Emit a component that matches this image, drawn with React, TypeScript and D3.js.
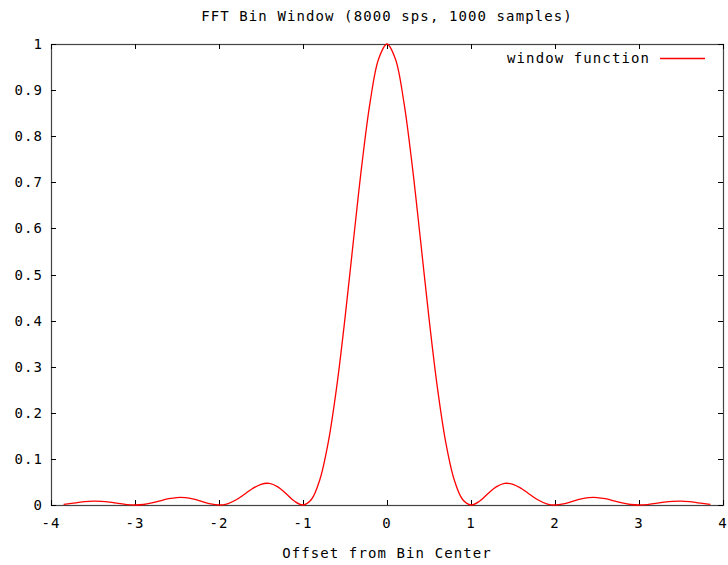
import React, { useEffect, useRef } from 'react';
import * as d3 from 'd3';

// offsets from bin center
const offsets: number[] = [
  -3.85, -3.8, -3.7, -3.6, -3.5, -3.4, -3.3, -3.2, -3.1, -3.0,
  -2.9, -2.8, -2.7, -2.6, -2.5, -2.4, -2.3, -2.2, -2.1, -2.0,
  -1.9, -1.8, -1.7, -1.6, -1.5, -1.4, -1.3, -1.2, -1.1, -1.0,
  -0.9, -0.8, -0.7, -0.6, -0.5, -0.4, -0.3, -0.2, -0.1, 0,
  0.1, 0.2, 0.3, 0.4, 0.5, 0.6, 0.7, 0.8, 0.9, 1.0,
  1.1, 1.2, 1.3, 1.4, 1.5, 1.6, 1.7, 1.8, 1.9, 2.0,
  2.1, 2.2, 2.3, 2.4, 2.5, 2.6, 2.7, 2.8, 2.9, 3.0,
  3.1, 3.2, 3.3, 3.4, 3.5, 3.6, 3.7, 3.8, 3.85,
];

// window function response at each offset
const windowValues: number[] = [
  0.0014, 0.0024, 0.0048, 0.0071, 0.0083, 0.0079, 0.0061, 0.0034, 0.0010, 0,
  0.0011, 0.0045, 0.0091, 0.0136, 0.0162, 0.0159, 0.0125, 0.0072, 0.0022, 0,
  0.0027, 0.0108, 0.0229, 0.0358, 0.0450, 0.0468, 0.0392, 0.0243, 0.0080, 0,
  0.0119, 0.0547, 0.1353, 0.2546, 0.4053, 0.5728, 0.7368, 0.8751, 0.9675, 1.0,
  0.9675, 0.8751, 0.7368, 0.5728, 0.4053, 0.2546, 0.1353, 0.0547, 0.0119, 0,
  0.0080, 0.0243, 0.0392, 0.0468, 0.0450, 0.0358, 0.0229, 0.0108, 0.0027, 0,
  0.0022, 0.0072, 0.0125, 0.0159, 0.0162, 0.0136, 0.0091, 0.0045, 0.0011, 0,
  0.0010, 0.0034, 0.0061, 0.0079, 0.0083, 0.0071, 0.0048, 0.0024, 0.0014,
];

const xTicks: number[] = [-4, -3, -2, -1, 0, 1, 2, 3, 4];
const yTicks: number[] = [0, 0.1, 0.2, 0.3, 0.4, 0.5, 0.6, 0.7, 0.8, 0.9, 1];

const title = 'FFT Bin Window (8000 sps, 1000 samples)';
const xLabel = 'Offset from Bin Center';
const seriesName = 'window function';

export default function App() {
  const svgRef = useRef<SVGSVGElement | null>(null);

  const W = 728;
  const H = 565;
  const margin = { top: 44, right: 5, bottom: 60, left: 51 };
  const width = W - margin.left - margin.right;
  const height = H - margin.top - margin.bottom;

  useEffect(() => {
    const svg = d3.select(svgRef.current);
    svg.selectAll('*').remove();

    const font = '"DejaVu Sans Mono", monospace';

    const x = d3.scaleLinear().domain([-4, 4]).range([0, width]);
    const y = d3.scaleLinear().domain([0, 1]).range([height, 0]);

    const g = svg.append('g').attr('transform', `translate(${margin.left},${margin.top})`);

    // frame
    g.append('rect')
      .attr('x', 0.5).attr('y', 0.5)
      .attr('width', width).attr('height', height)
      .attr('fill', 'none').attr('stroke', '#444').attr('stroke-width', 1.2);

    // inward ticks, mirrored on opposite side
    const tl = 5;
    g.selectAll('.xt').data(xTicks).join('path')
      .attr('d', d => {
        const px = Math.round(x(d)) + 0.5;
        return `M${px},${height}v${-tl}M${px},0v${tl}`;
      })
      .attr('stroke', '#000').attr('stroke-width', 1);
    g.selectAll('.yt').data(yTicks).join('path')
      .attr('d', d => {
        const py = Math.round(y(d)) + 0.5;
        return `M0,${py}h${tl}M${width},${py}h${-tl}`;
      })
      .attr('stroke', '#000').attr('stroke-width', 1);

    // tick labels
    g.selectAll('.xl').data(xTicks).join('text')
      .attr('x', d => x(d))
      .attr('y', height + 23)
      .attr('text-anchor', 'middle')
      .attr('font-family', font).attr('font-size', 14).attr('letter-spacing', 1)
      .attr('fill', '#000')
      .text(d => String(d));
    g.selectAll('.yl').data(yTicks).join('text')
      .attr('x', -8)
      .attr('y', d => y(d) + 5)
      .attr('text-anchor', 'end')
      .attr('font-family', font).attr('font-size', 14).attr('letter-spacing', 1.1)
      .attr('fill', '#000')
      .text(d => String(d));

    // curve
    const line = d3.line<number>()
      .x((_, i) => x(offsets[i]))
      .y(d => y(d))
      .curve(d3.curveCatmullRom);
    g.append('path')
      .datum(windowValues)
      .attr('d', line)
      .attr('fill', 'none')
      .attr('stroke', '#ff0000')
      .attr('stroke-width', 1.3);

    // legend
    g.append('text')
      .attr('x', 599).attr('y', 19)
      .attr('text-anchor', 'end')
      .attr('font-family', font).attr('font-size', 14).attr('letter-spacing', 1.1)
      .attr('fill', '#000')
      .text(seriesName);
    g.append('line')
      .attr('x1', 609).attr('x2', 654)
      .attr('y1', 14.5).attr('y2', 14.5)
      .attr('stroke', '#ff0000').attr('stroke-width', 1.3);

    // title and axis label
    svg.append('text')
      .attr('x', margin.left + width / 2).attr('y', 21)
      .attr('text-anchor', 'middle')
      .attr('font-family', font).attr('font-size', 14).attr('letter-spacing', 1.1)
      .attr('fill', '#000')
      .text(title);
    svg.append('text')
      .attr('x', margin.left + width / 2).attr('y', 558)
      .attr('text-anchor', 'middle')
      .attr('font-family', font).attr('font-size', 14).attr('letter-spacing', 1.1)
      .attr('fill', '#000')
      .text(xLabel);
  });

  return (
    <svg
      ref={svgRef}
      width={W}
      height={H}
      style={{ position: 'absolute', left: 0, top: 0, background: '#fff' }}
    />
  );
}
